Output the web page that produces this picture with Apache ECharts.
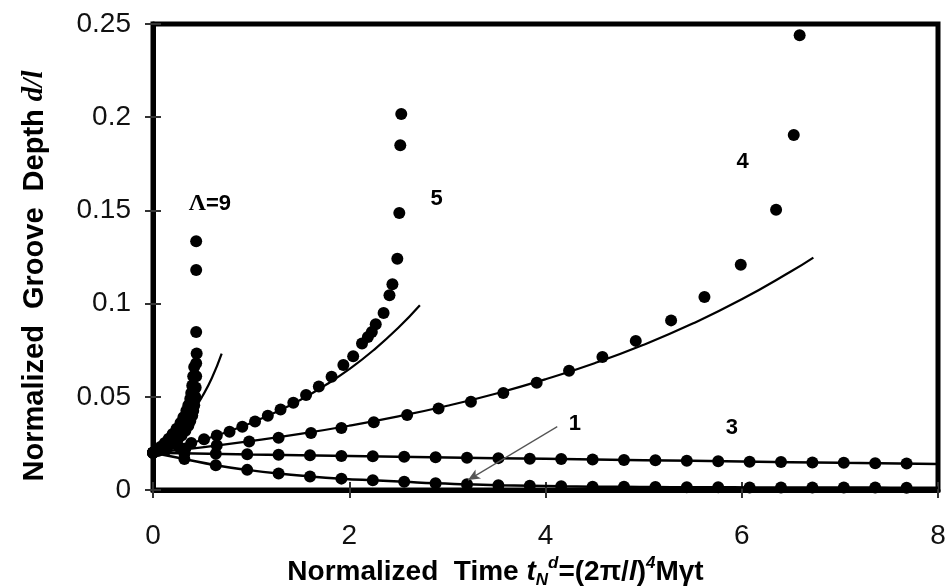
<!DOCTYPE html>
<html><head><meta charset="utf-8">
<script src="https://cdn.jsdelivr.net/npm/echarts@6/dist/echarts.min.js"></script>
<style>html,body{margin:0;padding:0;background:#fff}#c{width:946px;height:586px}</style>
</head><body><div id="c"></div>
<script>
// ---------- data ----------
const xTickLabels = ['0','2','4','6','8'];
const yTickLabels = ['0','0.05','0.1','0.15','0.2','0.25'];

// Lambda = 3 (simulation dots + connecting line)
const t3 = [0,0.32,0.64,0.96,1.28,1.6,1.92,2.24,2.56,2.88,3.2,3.52,3.84,4.16,4.48,4.8,5.12,5.44,5.76,6.08,6.4,6.72,7.04,7.36,7.68];
const d3 = [0.0200,0.0197,0.0194,0.0192,0.0189,0.0186,0.0183,0.0181,0.0178,0.0176,0.0173,0.0171,0.0168,0.0166,0.0163,0.0161,0.0159,0.0157,0.0154,0.0152,0.0150,0.0148,0.0146,0.0144,0.0142];
const tLine3 = [0,1,2,3,4,5,6,7,8];
const dLine3 = [0.0200,0.0191,0.0183,0.0175,0.0167,0.0160,0.0153,0.0146,0.0140];

// Lambda = 1
const t1 = [0,0.32,0.64,0.96,1.28,1.6,1.92,2.24,2.56,2.88,3.2,3.52,3.84,4.16,4.48,4.8,5.12,5.44,5.76,6.08,6.4,6.72,7.04,7.36,7.68];
const d1 = [0.0200,0.0166,0.0133,0.0108,0.0088,0.0073,0.0061,0.0052,0.0044,0.0036,0.0031,0.0026,0.0023,0.0020,0.0018,0.0017,0.0016,0.0015,0.0015,0.0014,0.0014,0.0013,0.0013,0.0013,0.0012];
const tLine1 = [0,0.32,0.64,0.96,1.28,1.6,1.92,2.24,2.56,2.88,3.2,3.52,3.84,4.16,4.48,4.8,5.12,5.44,5.76,6.08,6.4,6.72,7.04,7.36,7.68,8];
const dLine1 = [0.0200,0.0166,0.0133,0.0108,0.0088,0.0073,0.0061,0.0052,0.0044,0.0036,0.0031,0.0026,0.0023,0.0020,0.0018,0.0017,0.0016,0.0015,0.0015,0.0014,0.0014,0.0013,0.0013,0.0013,0.0012,0.0012];

// Lambda = 4
const t4 = [0,0.33,0.65,0.98,1.28,1.61,1.92,2.25,2.59,2.91,3.24,3.57,3.91,4.24,4.58,4.92,5.28,5.62,5.99,6.35,6.53,6.59];
const d4 = [0.0200,0.0222,0.0240,0.0260,0.0280,0.0306,0.0332,0.0364,0.0402,0.0437,0.0474,0.0520,0.0575,0.0640,0.0714,0.0800,0.0910,0.1036,0.1209,0.1504,0.1905,0.2440];
const tLine4 = [0,0.5,1,1.5,2,2.5,3,3.5,4,4.5,5,5.5,6,6.5,6.73];
const dLine4 = [0.0200,0.0229,0.0263,0.0301,0.0345,0.0395,0.0452,0.0518,0.0594,0.0680,0.0779,0.0893,0.1023,0.1172,0.1247];

// Lambda = 5
const t5 = [0,0.13,0.26,0.39,0.52,0.65,0.78,0.91,1.04,1.17,1.30,1.43,1.56,1.69,1.82,1.94,2.04,2.13,2.19,2.23,2.27,2.35,2.41,2.44,2.49,2.51,2.52,2.53];
const d5 = [0.0200,0.0215,0.0232,0.0252,0.0272,0.0292,0.0313,0.0339,0.0368,0.0398,0.0432,0.0468,0.0510,0.0555,0.0607,0.0670,0.0718,0.0786,0.0821,0.0848,0.0889,0.0950,0.1045,0.1104,0.1241,0.1486,0.1850,0.2017];
const tLine5 = [0,0.25,0.5,0.75,1,1.25,1.5,1.75,2,2.25,2.5,2.72];
const dLine5 = [0.0200,0.0232,0.0268,0.0311,0.0360,0.0417,0.0483,0.0560,0.0648,0.0751,0.0870,0.0991];

// Lambda = 9
const t9 = [0,0.05,0.10,0.15,0.20,0.25,0.29,0.33,0.36,0.38,0.40,0.41,0.42,0.43,0.435,0.44,0.44,0.445,
            0.04,0.08,0.12,0.16,0.20,0.24,0.28,0.31,0.34,0.36,0.38,0.39,0.40,0.41,0.42,
            0.44,0.44,0.44];
const d9 = [0.0200,0.0209,0.0220,0.0233,0.0250,0.0270,0.0292,0.0318,0.0345,0.0370,0.0400,0.0425,0.0455,0.0500,0.0550,0.0610,0.0680,0.0732,
            0.0215,0.0232,0.0252,0.0275,0.0300,0.0328,0.0360,0.0390,0.0425,0.0455,0.0490,0.0520,0.0560,0.0610,0.0660,
            0.0848,0.1180,0.1335];
const tLine9 = [0,0.1,0.2,0.3,0.4,0.5,0.6,0.7];
const dLine9 = [0.0200,0.0240,0.0289,0.0347,0.0416,0.0500,0.0601,0.0732];

// curve labels (text, t, d)
const labelText = ['Λ=9','5','4','1','3'];
const labelT = [0.58,2.89,6.01,4.30,5.90];
const labelD = [0.1537,0.1564,0.1759,0.0354,0.0332];
// arrow pointing to curve 1
const arrowFrom = [4.12,0.0340];
const arrowTo = [3.21,0.0053];

// ---------- chart ----------
const zip = (a,b) => a.map((v,i)=>[v,b[i]]);
const chart = echarts.init(document.getElementById('c'), null, {renderer:'canvas'});
const sans = '"Liberation Sans", Arial, sans-serif';
const serif = '"Liberation Serif", "Times New Roman", serif';
const dot = (name, t, d) => ({name, type:'scatter', data: zip(t,d), symbol:'circle', symbolSize:12,
  itemStyle:{color:'#000', opacity:1}, z:3});
const line = (name, t, d, w) => ({name, type:'line', data: zip(t,d), showSymbol:false, smooth:true,
  lineStyle:{color:'#000', width:w}, z:2});

const labelData = labelText.map((s,i)=>({name:s, value:[labelT[i], labelD[i]]}));

chart.setOption({
  animation:false,
  backgroundColor:'#fff',
  grid:{left:153, right:8, top:24, bottom:96, show:true, borderColor:'#000', borderWidth:5,
        backgroundColor:'#fff', containLabel:false, outerBoundsMode:'none'},
  xAxis:[{
    type:'value', min:0, max:8, interval:2, position:'bottom',
    axisLine:{show:true, onZero:false, lineStyle:{color:'#000', width:5}},
    axisTick:{show:true, inside:false, length:8, lineStyle:{color:'#333', width:2}},
    splitLine:{show:false},
    axisLabel:{margin:32, fontSize:28, fontFamily:sans, color:'#111',
      formatter:v=>xTickLabels[Math.round(v/2)]},
    name:'{a|Normalized  Time }{i|t}{sub|N}{sup|d}{a|=(2π/}{i|l}{a|)}{sup|4}{a|Mγt}',
    nameLocation:'middle', nameGap:64,
    nameTextStyle:{padding:[0,100,0,0],
      rich:{
        a:{fontSize:28, fontWeight:'bold', fontFamily:sans, color:'#000', lineHeight:34},
        i:{fontSize:28, fontWeight:'bold', fontStyle:'italic', fontFamily:sans, color:'#000', lineHeight:34},
        sub:{fontSize:17, fontWeight:'bold', fontStyle:'italic', fontFamily:sans, color:'#000', verticalAlign:'bottom', lineHeight:34},
        sup:{fontSize:17, fontWeight:'bold', fontStyle:'italic', fontFamily:sans, color:'#000', verticalAlign:'top', lineHeight:34}
      }}
  },{
    type:'value', min:0, max:8, interval:2, position:'bottom',
    axisLine:{show:false, onZero:false}, axisLabel:{show:false}, splitLine:{show:false},
    axisTick:{show:true, inside:true, length:8, lineStyle:{color:'#333', width:2}}
  }],
  yAxis:[{
    type:'value', min:0, max:0.25, interval:0.05, position:'left',
    axisLine:{show:true, onZero:false, lineStyle:{color:'#000', width:5}},
    axisTick:{show:true, inside:false, length:8, lineStyle:{color:'#333', width:2}},
    splitLine:{show:false},
    axisLabel:{margin:22, fontSize:28, fontFamily:sans, color:'#111',
      formatter:v=>yTickLabels[Math.round(v/0.05)]},
    name:'{a|Normalized  Groove  Depth }{i|d/l}',
    nameLocation:'middle', nameGap:104,
    nameTextStyle:{padding:[0,38,0,0],
      rich:{
        a:{fontSize:29, fontWeight:'bold', fontFamily:sans, color:'#000'},
        i:{fontSize:29, fontWeight:'bold', fontStyle:'italic', fontFamily:serif, color:'#000'}
      }}
  },{
    type:'value', min:0, max:0.25, interval:0.05, position:'left',
    axisLine:{show:false, onZero:false}, axisLabel:{show:false}, splitLine:{show:false},
    axisTick:{show:true, inside:true, length:8, lineStyle:{color:'#333', width:2}}
  }],
  series:[
    line('L3 line', tLine3, dLine3, 2.5),
    dot('L3 dots', t3, d3),
    line('L1 line', tLine1, dLine1, 2.5),
    dot('L1 dots', t1, d1),
    line('L4 model', tLine4, dLine4, 2.2),
    dot('L4 dots', t4, d4),
    line('L5 model', tLine5, dLine5, 2.2),
    dot('L5 dots', t5, d5),
    line('L9 model', tLine9, dLine9, 2.2),
    dot('L9 dots', t9, d9),
    {name:'labels', type:'scatter', data:labelData, symbolSize:0, z:5, silent:true,
     itemStyle:{opacity:1},
     label:{show:true, position:'inside', color:'#000', opacity:1,
       formatter:p=>{const s=p.name; return s.charAt(0)==='Λ' ? '{g|Λ}{b|'+s.slice(1)+'}' : '{b|'+s+'}';},
       rich:{g:{fontSize:24, fontWeight:'bold', fontFamily:serif, color:'#000'},
             b:{fontSize:22, fontWeight:'bold', fontFamily:sans, color:'#000'}}},
     markLine:{silent:true, symbol:['none','arrow'], symbolSize:[8,12],
       lineStyle:{color:'#555', width:1.2, type:'solid'}, label:{show:false},
       data:[[{coord:arrowFrom},{coord:arrowTo}]]}
    }
  ]
});
</script></body></html>
